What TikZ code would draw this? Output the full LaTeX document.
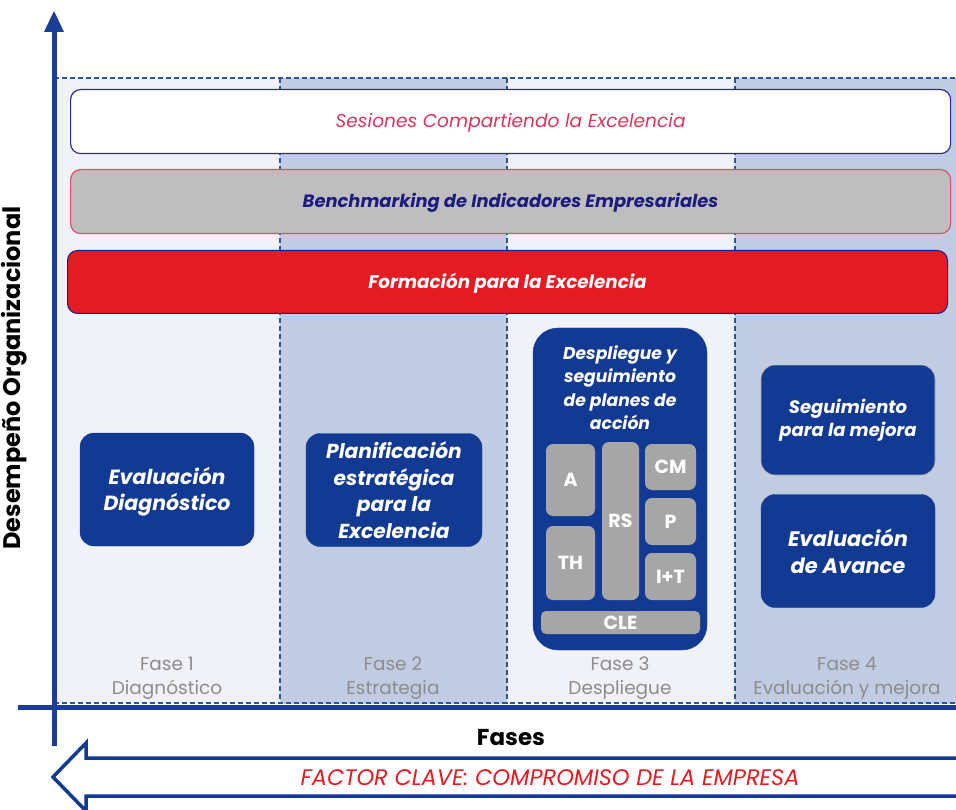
\documentclass[tikz,border=0pt]{standalone}
\usepackage{fontspec}
\setmainfont{Poppins}
\usetikzlibrary{positioning}
\definecolor{navy}{HTML}{133A93}
\definecolor{axisblue}{HTML}{1A3E95}
\definecolor{collight}{HTML}{F0F2F8}
\definecolor{colblue}{HTML}{C1CCE3}
\definecolor{dashblue}{HTML}{2E5597}
\definecolor{barone}{HTML}{2E2A9E}
\definecolor{crimson}{HTML}{D9365A}
\definecolor{bargray}{HTML}{BEBEBE}
\definecolor{pinkborder}{HTML}{D9506A}
\definecolor{darknavy}{HTML}{1C1C80}
\definecolor{brightred}{HTML}{E41B23}
\definecolor{smallgray}{HTML}{A6A6A6}
\definecolor{fasegray}{HTML}{8C8C8C}
\tikzset{
  bar/.style={rounded corners=10pt, line width=1.2pt, text depth=2pt},
  phasebox/.style={fill=navy, draw=navy, rounded corners=14pt, text=white, font=\bfseries\itshape\fontsize{20.5}{26}\selectfont, align=center},
  minibox/.style={fill=smallgray, rounded corners=7pt, text=white, font=\bfseries\fontsize{19}{21}\selectfont},
  faselabel/.style={text=fasegray, font=\fontsize{18.5}{24}\selectfont, align=center},
  sep/.style={dashblue, dashed, line width=1.3pt, dash pattern=on 5pt off 3pt}
}
\begin{document}
\begin{tikzpicture}[x=1pt,y=-1pt]
\useasboundingbox (0,0) rectangle (956,810);
% column backgrounds
\fill[collight] (54,78) rectangle (280,704);
\fill[colblue] (280,78) rectangle (507,704);
\fill[collight] (507,78) rectangle (735,704);
\fill[colblue] (735,78) rectangle (956,704);
\draw[sep] (54,78) -- (956,78);
\draw[sep] (54,703) -- (956,703);
\draw[sep] (280,78) -- (280,704);
\draw[sep] (507,78) -- (507,704);
\draw[sep] (735,78) -- (735,704);
% bars
\node[bar, draw=barone, fill=white, minimum width=880pt, minimum height=64pt, anchor=north west, text=crimson, font=\itshape\fontsize{18.6}{22}\selectfont] (b1) at (70,89) {Sesiones Compartiendo la Excelencia};
\node[bar, draw=pinkborder, fill=bargray, minimum width=880pt, minimum height=64pt, anchor=north west, text=darknavy, font=\bfseries\itshape\fontsize{17.9}{22}\selectfont] (b2) at (70,169) {Benchmarking de Indicadores Empresariales};
\node[bar, draw=darknavy, fill=brightred, line width=1pt, minimum width=880pt, minimum height=63pt, anchor=north west, text=white, font=\bfseries\itshape\fontsize{18.3}{22}\selectfont] (b3) at (67,250) {Formación para la Excelencia};
% phase boxes
\node[phasebox, minimum width=174pt, minimum height=113pt] (p1) at (167,489.5) {};
\node[text=white, font=\bfseries\itshape\fontsize{20.5}{26}\selectfont, align=center] (p1t) at (167,492) {Evaluación\\Diagnóstico};
\node[phasebox, minimum width=176pt, minimum height=113pt, font=\bfseries\itshape\fontsize{20.2}{26.5}\selectfont] (p2) at (394,490) {Planificación\\estratégica\\para la\\Excelencia};
\node[phasebox, rounded corners=25pt, minimum width=174pt, minimum height=322pt] (p3) at (620,489) {};
\node[text=white, font=\bfseries\itshape\fontsize{17.2}{23.4}\selectfont, align=center, anchor=north] (p3t) at (620,342) {Despliegue y\\seguimiento\\de planes de\\acción};
\node[phasebox, draw=gray!60, line width=0.6pt, minimum width=174pt, minimum height=110pt, font=\bfseries\itshape\fontsize{18}{23}\selectfont] (p4a) at (848,420) {Seguimiento\\para la mejora};
\node[phasebox, minimum width=174pt, minimum height=113pt, font=\bfseries\itshape\fontsize{21}{27}\selectfont] (p4b) at (848,551) {Evaluación\\de Avance};
% mini boxes
\node[minibox, minimum width=49pt, minimum height=72pt] (mA) at (570.5,480) {A};
\node[minibox, minimum width=49pt, minimum height=74pt] (mTH) at (570.5,563) {TH};
\node[minibox, minimum width=37pt, minimum height=158pt] (mRS) at (620.5,521) {RS};
\node[minibox, minimum width=51pt, minimum height=46pt] (mCM) at (670.5,467) {CM};
\node[minibox, minimum width=51pt, minimum height=47pt] (mP) at (670.5,521.5) {P};
\node[minibox, minimum width=51pt, minimum height=47pt] (mIT) at (670.5,576.5) {I+T};
\node[minibox, rounded corners=5pt, minimum width=159pt, minimum height=23pt, inner sep=0pt] (mCLE) at (620.5,622.5) {CLE};
% fase labels
\node[faselabel] (f1) at (167,678) {Fase 1\\Diagnóstico};
\node[faselabel] (f2) at (393,678) {Fase 2\\Estrategia};
\node[faselabel] (f3) at (620,678) {Fase 3\\Despliegue};
\node[faselabel] (f4) at (847,678) {Fase 4\\Evaluación y mejora};
% axes
\fill[axisblue] (18,704.5) rectangle (956,709.5);
\fill[axisblue] (51.5,30) rectangle (56.5,746);
\fill[axisblue] (54,11) -- (64,32) -- (44,32) -- cycle;
\coordinate (ytip) at (54,11);
% axis labels
\node[rotate=90, font=\bfseries\fontsize{24}{28}\selectfont] (ylab) at (14,378) {Desempeño Organizacional};
\node[font=\bfseries\fontsize{23}{26}\selectfont] (xlab) at (511,738) {Fases};
% hollow arrow
\draw[navy, line width=3.5pt, fill=white, line join=miter] (960,758) -- (86,758) -- (86,743) -- (53,777) -- (86,811) -- (86,796) -- (960,796) -- cycle;
\node[text=brightred, font=\itshape\fontsize{22.5}{26}\selectfont] (factor) at (550,778) {FACTOR CLAVE: COMPROMISO DE LA EMPRESA};
\end{tikzpicture}
\end{document}
